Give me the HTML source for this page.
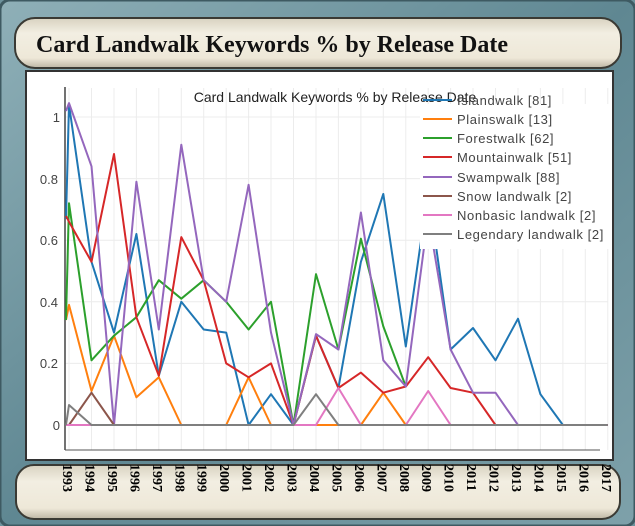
<!DOCTYPE html>
<html><head><meta charset="utf-8"><style>
html,body{margin:0;padding:0;width:635px;height:526px;overflow:hidden;background:#6d929c}
</style></head><body>
<svg width="635" height="526" xmlns="http://www.w3.org/2000/svg" font-family="Liberation Sans, sans-serif">
<defs>
<linearGradient id="stone" x1="0" y1="0" x2="1" y2="1">
<stop offset="0" stop-color="#8fb0b8"/><stop offset="0.5" stop-color="#5f8792"/><stop offset="1" stop-color="#7ea1aa"/></linearGradient>
<linearGradient id="parch" x1="0" y1="0" x2="0" y2="1">
<stop offset="0" stop-color="#d8d2c0"/><stop offset="0.3" stop-color="#f2eee2"/><stop offset="0.8" stop-color="#eee8d8"/><stop offset="1" stop-color="#bdb6a4"/></linearGradient>
</defs>
<rect x="0" y="0" width="635" height="526" rx="10" fill="url(#stone)"/>
<rect x="0" y="0" width="635" height="526" rx="10" fill="none" stroke="#3e5a62" stroke-width="3"/>
<rect x="15" y="18" width="606" height="50" rx="20" fill="url(#parch)" stroke="#3a3a34" stroke-width="2"/>
<text x="36" y="52" font-family="Liberation Serif, serif" font-weight="bold" font-size="24" fill="#111">Card Landwalk Keywords % by Release Date</text>
<rect x="26" y="71" width="587" height="389" fill="#fff" stroke="#333" stroke-width="2"/>
<g stroke="#ececec" stroke-width="1">
<line x1="65" y1="117" x2="608" y2="117"/><line x1="65" y1="178.6" x2="608" y2="178.6"/><line x1="65" y1="240.2" x2="608" y2="240.2"/><line x1="65" y1="301.8" x2="608" y2="301.8"/><line x1="65" y1="363.4" x2="608" y2="363.4"/>
<line x1="69" y1="88" x2="69" y2="450"/><line x1="91.5" y1="88" x2="91.5" y2="450"/><line x1="114" y1="88" x2="114" y2="450"/><line x1="136.4" y1="88" x2="136.4" y2="450"/><line x1="158.8" y1="88" x2="158.8" y2="450"/><line x1="181.3" y1="88" x2="181.3" y2="450"/><line x1="203.7" y1="88" x2="203.7" y2="450"/><line x1="226.2" y1="88" x2="226.2" y2="450"/><line x1="248.6" y1="88" x2="248.6" y2="450"/><line x1="271" y1="88" x2="271" y2="450"/><line x1="293.5" y1="88" x2="293.5" y2="450"/><line x1="316" y1="88" x2="316" y2="450"/><line x1="338.4" y1="88" x2="338.4" y2="450"/><line x1="360.9" y1="88" x2="360.9" y2="450"/><line x1="383.3" y1="88" x2="383.3" y2="450"/><line x1="405.8" y1="88" x2="405.8" y2="450"/><line x1="428.2" y1="88" x2="428.2" y2="450"/><line x1="450.6" y1="88" x2="450.6" y2="450"/><line x1="473" y1="88" x2="473" y2="450"/><line x1="495.5" y1="88" x2="495.5" y2="450"/><line x1="518" y1="88" x2="518" y2="450"/><line x1="540.4" y1="88" x2="540.4" y2="450"/><line x1="562.9" y1="88" x2="562.9" y2="450"/><line x1="585.3" y1="88" x2="585.3" y2="450"/><line x1="607.8" y1="88" x2="607.8" y2="450"/>
</g>
<line x1="65" y1="87" x2="65" y2="450" stroke="#444" stroke-width="1.5"/>
<line x1="65" y1="450" x2="600" y2="450" stroke="#555" stroke-width="1"/>
<g font-size="13" fill="#444" text-anchor="end">
<text x="60" y="122">1</text><text x="58" y="184">0.8</text><text x="58" y="245">0.6</text><text x="58" y="307">0.4</text><text x="58" y="368">0.2</text><text x="60" y="430">0</text>
</g>
<g fill="none" stroke-width="2" stroke-linejoin="round">
<polyline stroke="#1f77b4" points="66,219 69,104.6 91.5,261.8 114,332.6 136.4,234 158.8,375.7 181.3,301.8 203.7,329.5 226.2,332.6 248.6,425 271,394.2 293.5,425 316,335.7 338.4,388 360.9,261.8 383.3,194 405.8,346.5 428.2,191 450.6,349.5 473,328 495.5,360.3 518,318.7 540.4,394.2 562.9,425 607.8,425"/>
<polyline stroke="#ff7f0e" points="66,320 69,304.9 91.5,391 114,335.7 136.4,397.3 158.8,377.3 181.3,425 226.2,425 248.6,377.3 271,425 360.9,425 383.3,392.7 405.8,425 607.8,425"/>
<polyline stroke="#2ca02c" points="66,320 69,203.2 91.5,360.3 114,335.7 136.4,317.2 158.8,280.2 181.3,298.7 203.7,280.2 226.2,301.8 248.6,329.5 271,301.8 293.5,425 316,274.1 338.4,349.5 360.9,238.7 383.3,326.4 405.8,386.5"/>
<polyline stroke="#d62728" points="66,216 69,221.7 91.5,261.8 114,154 136.4,317.2 158.8,375.7 181.3,237.1 203.7,280.2 226.2,363.4 248.6,377.3 271,363.4 293.5,425 316,335.7 338.4,388 360.9,372.6 383.3,392.7 405.8,386.5 428.2,357.2 450.6,388 473,392.7 495.5,425 607.8,425"/>
<polyline stroke="#9467bd" points="66,111 69,103.1 91.5,166.3 114,425 136.4,181.7 158.8,329.5 181.3,144.7 203.7,280.2 226.2,301.8 248.6,184.8 271,332.6 293.5,425 316,334.1 338.4,349.5 360.9,212.5 383.3,360.3 405.8,386.5 428.2,215.6 450.6,349.5 473,392.7 495.5,392.7 518,425 607.8,425"/>
<polyline stroke="#8c564b" points="66,425 69,425 91.5,392.7 114,425 130,425"/>
<polyline stroke="#e377c2" points="66,425 316,425 338.4,388 360.9,425 405.8,425 428.2,391 450.6,425 470,425"/>
<polyline stroke="#7f7f7f" points="66,425 69,405 91.5,425 293.5,425 316,394.2 338.4,425 607.8,425"/>
</g>
<text x="335" y="102" font-size="14" text-anchor="middle" fill="#222">Card Landwalk Keywords % by Release Date</text>
<rect x="420" y="104" width="190" height="145" fill="#fff"/>
<g stroke-width="2">
<line x1="423" y1="100" x2="452" y2="100" stroke="#1f77b4"/>
<line x1="423" y1="119" x2="452" y2="119" stroke="#ff7f0e"/>
<line x1="423" y1="138" x2="452" y2="138" stroke="#2ca02c"/>
<line x1="423" y1="157" x2="452" y2="157" stroke="#d62728"/>
<line x1="423" y1="177" x2="452" y2="177" stroke="#9467bd"/>
<line x1="423" y1="196" x2="452" y2="196" stroke="#8c564b"/>
<line x1="423" y1="215" x2="452" y2="215" stroke="#e377c2"/>
<line x1="423" y1="234" x2="452" y2="234" stroke="#7f7f7f"/>
</g>
<g font-size="13" fill="#444" letter-spacing="0.6">
<text x="457" y="105">Islandwalk [81]</text>
<text x="457" y="124">Plainswalk [13]</text>
<text x="457" y="143">Forestwalk [62]</text>
<text x="457" y="162">Mountainwalk [51]</text>
<text x="457" y="182">Swampwalk [88]</text>
<text x="457" y="201">Snow landwalk [2]</text>
<text x="457" y="220">Nonbasic landwalk [2]</text>
<text x="457" y="239">Legendary landwalk [2]</text>
</g>
<rect x="16" y="465" width="604" height="54" rx="18" fill="url(#parch)" stroke="#3a3a34" stroke-width="2"/>
<g font-family="Liberation Serif, serif" font-weight="bold" font-size="14" fill="#000">
<text transform="translate(63,464) rotate(90)">1993</text>
<text transform="translate(85.5,464) rotate(90)">1994</text>
<text transform="translate(108,464) rotate(90)">1995</text>
<text transform="translate(130.4,464) rotate(90)">1996</text>
<text transform="translate(152.8,464) rotate(90)">1997</text>
<text transform="translate(175.3,464) rotate(90)">1998</text>
<text transform="translate(197.7,464) rotate(90)">1999</text>
<text transform="translate(220.2,464) rotate(90)">2000</text>
<text transform="translate(242.6,464) rotate(90)">2001</text>
<text transform="translate(265,464) rotate(90)">2002</text>
<text transform="translate(287.5,464) rotate(90)">2003</text>
<text transform="translate(310,464) rotate(90)">2004</text>
<text transform="translate(332.4,464) rotate(90)">2005</text>
<text transform="translate(354.9,464) rotate(90)">2006</text>
<text transform="translate(377.3,464) rotate(90)">2007</text>
<text transform="translate(399.8,464) rotate(90)">2008</text>
<text transform="translate(422.2,464) rotate(90)">2009</text>
<text transform="translate(444.6,464) rotate(90)">2010</text>
<text transform="translate(467,464) rotate(90)">2011</text>
<text transform="translate(489.5,464) rotate(90)">2012</text>
<text transform="translate(512,464) rotate(90)">2013</text>
<text transform="translate(534.4,464) rotate(90)">2014</text>
<text transform="translate(556.9,464) rotate(90)">2015</text>
<text transform="translate(579.3,464) rotate(90)">2016</text>
<text transform="translate(601.8,464) rotate(90)">2017</text>
</g>
</svg>
</body></html>
